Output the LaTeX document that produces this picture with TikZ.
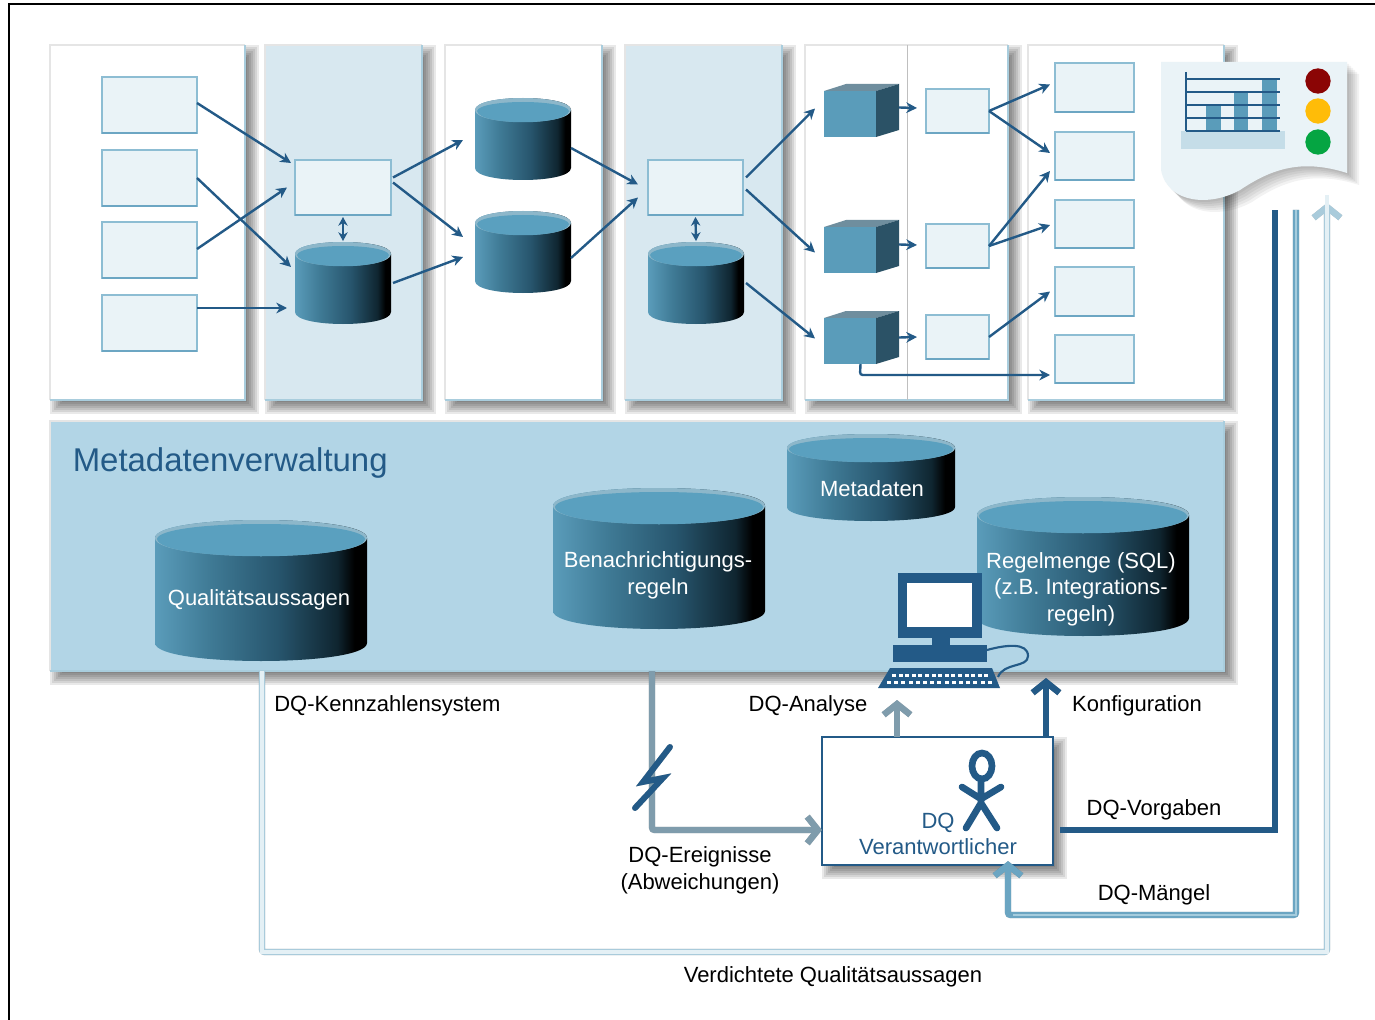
\documentclass[tikz,border=0pt]{standalone}
\usepackage{fontspec}
\setmainfont{Liberation Sans}
\usetikzlibrary{arrows.meta,calc}
\definecolor{panelblue}{HTML}{D8E8F0}
\definecolor{bigblue}{HTML}{B2D5E6}
\definecolor{edgeblue}{HTML}{A9CDDD}
\definecolor{boxfill}{HTML}{EAF3F7}
\definecolor{boxedge}{HTML}{8DBDD3}
\definecolor{boxedgedk}{HTML}{6CA6C3}
\definecolor{dark}{HTML}{235A87}
\definecolor{cA}{HTML}{5A9CBA}
\definecolor{cB}{HTML}{3F7A95}
\definecolor{cC}{HTML}{27556D}
\definecolor{cD}{HTML}{0F2530}
\definecolor{cTop}{HTML}{5AA0BF}
\definecolor{cRim}{HTML}{8DB7CA}
\definecolor{cubeside}{HTML}{2B5266}
\definecolor{cubetop}{HTML}{6F8E9E}
\definecolor{greyarrow}{HTML}{7F9CAC}
\definecolor{midarrow}{HTML}{6BA5C2}
\definecolor{midcore}{HTML}{A5CCDD}
\definecolor{lightarrow}{HTML}{A9CBDB}
\definecolor{lightcore}{HTML}{E4F0F5}
\definecolor{lampred}{HTML}{8B0505}
\definecolor{lampamber}{HTML}{FFBC08}
\definecolor{lampgreen}{HTML}{05A542}
\pgfdeclarehorizontalshading[cA,cB,cC,cD]{cylsh}{100bp}{color(0bp)=(cA);color(25bp)=(cA);color(38bp)=(cB);color(54bp)=(cC);color(68bp)=(cD);color(72bp)=(black);color(100bp)=(black)}
\newcommand{\softshadow}[5]{%
  \foreach \dd in {-7,-5,-3,-1,1,3,5,7}{%
    \fill[black,opacity=.085] ({#1+#5+\dd},{#2+#5+\dd}) rectangle ({#3+#5-\dd},{#4+#5-\dd});
  }}
\newcommand{\placenode}[6]{%
  \pgfmathsetmacro\wv{(#5-#3)*0.75}%
  \pgfmathsetmacro\hv{(#6-#4)*0.75}%
  \node[#1,minimum width=\wv pt,minimum height=\hv pt] (#2) at ({(#3+#5)/2},{(#4+#6)/2}) {};}
\newcommand{\panel}[6]{%
  \softshadow{#3}{#4}{#5}{#6}{7}%
  \placenode{panelbox,fill=#1}{#2}{#3}{#4}{#5}{#6}%
  \draw[black!10,line width=1.5pt] (#2.south west) -- (#2.north west) -- (#2.north east);
  \draw[edgeblue,line width=2pt] (#2.north east) -- (#2.south east) -- (#2.south west);}
\newcommand{\lightrect}[5]{%
  \placenode{lbox}{#1}{#2}{#3}{#4}{#5}%
  \draw[boxedgedk,line width=1.6pt] (#1.south west) -- (#1.south east);}
\newcommand{\dbcyl}[6]{%
  \pgfmathsetmacro\yt{#3+#6}\pgfmathsetmacro\yb{#5-#6}%
  \pgfmathsetmacro\ct{#3+#6-#6*4/3}\pgfmathsetmacro\cb{#5-#6+#6*4/3}\pgfmathsetmacro\cc{#3+#6+#6*4/3}%
  \shade[shading=cylsh] (#2,\yt) -- (#2,\yb) .. controls (#2,\cb) and (#4,\cb) .. (#4,\yb) -- (#4,\yt) .. controls (#4,\ct) and (#2,\ct) .. (#2,\yt) -- cycle;
  \fill[cRim] (#2,\yt) .. controls (#2,\ct) and (#4,\ct) .. (#4,\yt) .. controls (#4,\cc) and (#2,\cc) .. (#2,\yt) -- cycle;
  \fill[cTop] ({#2+2},{\yt+1}) .. controls ({#2+5},{\ct+5}) and ({#4-5},{\ct+5}) .. ({#4-2},{\yt+1}) .. controls ({#4-4},\cc) and ({#2+4},\cc) .. ({#2+2},{\yt+1}) -- cycle;
  \placenode{ghost}{#1}{#2}{#3}{#4}{#5}}
\newcommand{\cube}[3]{%
  \pgfmathsetmacro\yA{#3}\pgfmathsetmacro\yB{#3+7}\pgfmathsetmacro\yC{#3+53}\pgfmathsetmacro\yD{#3+46}\pgfmathsetmacro\xE{#2+75}%
  \fill[cubetop] (#2,\yB) -- ({#2+22},\yA) -- (\xE,\yA) -- ({#2+52},\yB) -- cycle;
  \fill[cubeside] ({#2+52},\yB) -- (\xE,\yA) -- (\xE,\yD) -- ({#2+52},\yC) -- cycle;
  \fill[cA] (#2,\yB) rectangle ({#2+52},\yC);
  \placenode{ghost}{#1}{#2}{\yA}{\xE}{\yC}}
\newcommand{\thickflow}[2]{%
  \begin{scope}[shift={(3,3)},opacity=.25]\draw[#1,black] #2;\end{scope}
  \draw[#1] #2;}
\tikzset{
  panelbox/.style={draw=none,inner sep=0pt,outer sep=0pt},
  ghost/.style={inner sep=0pt,outer sep=0pt},
  lbox/.style={draw=boxedge,fill=boxfill,line width=1.6pt,inner sep=0pt,outer sep=0pt},
  flow/.style={draw=dark,line width=1.8pt,-{Stealth[length=8pt,width=8pt,inset=2.5pt]}},
  flowboth/.style={draw=dark,line width=1.8pt,{Stealth[length=6.5pt,width=7pt,inset=2pt]}-{Stealth[length=6.5pt,width=7pt,inset=2pt]}},
  lbl/.style={inner sep=0pt,font=\fontsize{16.5}{20}\selectfont,align=center,text=black},
  cyltext/.style={inner sep=0pt,font=\fontsize{16.5}{20}\selectfont,align=center,text=white},
  darktext/.style={inner sep=0pt,font=\fontsize{16.5}{19}\selectfont,align=center,text=dark},
  barb/.style={-{Straight Barb[length=8pt,width=20pt]},line width=4.8pt},
  thick line/.style={line width=4.6pt},
  pers/.style={draw=dark,line width=5pt,line cap=round},
}
\begin{document}
\begin{tikzpicture}[x=0.75pt,y=-0.75pt]
\useasboundingbox (0,0) rectangle (1375,1020);
\fill[white] (0,0) rectangle (1375,1020);
\coordinate (frameA) at (9,1020);
\coordinate (frameB) at (9,4);
\coordinate (frameC) at (1375,4);
\draw[black,line width=1.6pt] (frameA) -- (frameB) -- (frameC);
% panels
\panel{white}{pa}{50}{45}{245}{400}
\panel{panelblue}{pb}{265}{45}{422}{400}
\panel{white}{pc}{445}{45}{602}{400}
\panel{panelblue}{pd}{625}{45}{782}{400}
\panel{white}{pe}{805}{45}{1008}{400}
\panel{white}{pf}{1028}{45}{1224}{400}
\draw[black!25,line width=.8pt] ($(pe.north west)!.505!(pe.north east)$) -- ($(pe.south west)!.505!(pe.south east)$);
\panel{bigblue}{big}{50}{421}{1224}{671}
% boxes
\lightrect{ma}{102}{77}{197}{133}
\lightrect{mb}{102}{150}{197}{206}
\lightrect{mc}{102}{222}{197}{278}
\lightrect{md}{102}{295}{197}{351}
\lightrect{ba}{295}{160}{391}{215}
\lightrect{bb}{648}{160}{743}{215}
\dbcyl{ca}{295}{242}{391}{324}{12}
\dbcyl{cb}{475}{98}{571}{180}{12}
\dbcyl{cc}{475}{211}{571}{293}{12}
\dbcyl{cd}{648}{242}{744}{324}{12}
\cube{qa}{824}{84}
\cube{qb}{824}{220}
\cube{qc}{824}{311}
\lightrect{ra}{926}{89}{989}{133}
\lightrect{rb}{926}{224}{989}{268}
\lightrect{rc}{926}{315}{989}{359}
\lightrect{sa}{1055}{63}{1134}{112}
\lightrect{sb}{1055}{132}{1134}{180}
\lightrect{sc}{1055}{200}{1134}{248}
\lightrect{sd}{1055}{267}{1134}{316}
\lightrect{se}{1055}{335}{1134}{383}
% flows
\draw[flow] ([shift={(0,-2)}]ma.east) -- ([shift={(-4,3)}]ba.north west);
\draw[flow] (mb.east) -- ([shift={(-4,25)}]ca.north west);
\draw[flow] ([shift={(0,-1)}]mc.east) -- ([shift={(-8,0)}]ba.west);
\draw[flow] ([shift={(0,-15)}]md.east) -- ([shift={(-8,25)}]ca.west);
\draw[flow] ([shift={(2,-10)}]ba.east) -- ([shift={(-12,1)}]cb.west);
\draw[flow] ([shift={(2,-5)}]ba.east) -- ([shift={(-12,-15)}]cc.west);
\draw[flow] ([shift={(2,0)}]ca.east) -- ([shift={(-12,5)}]cc.west);
\draw[flowboth] ([shift={(0,2)}]ba.south) -- ([shift={(0,-1)}]ca.north);
\draw[flow] ([shift={(0,9)}]cb.east) -- ([shift={(-10,-3)}]bb.west);
\draw[flow] ([shift={(0,6)}]cc.east) -- ([shift={(-10,10)}]bb.west);
\draw[flow] ([shift={(3,-10)}]bb.east) -- ([shift={(-9,-2)}]qa.west);
\draw[flow] ([shift={(3,2)}]bb.east) -- ([shift={(-9,6)}]qb.west);
\draw[flow] ([shift={(2,0)}]cd.east) -- ([shift={(-9,1)}]qc.west);
\draw[flowboth] ([shift={(0,2)}]bb.south) -- ([shift={(0,-1)}]cd.north);
\draw[flow] ([shift={(0,-3)}]qa.east) -- ([shift={(-9,-3)}]ra.west);
\draw[flow] ([shift={(0,-2)}]qb.east) -- ([shift={(-9,-1)}]rb.west);
\draw[flow] (qc.east) -- ([shift={(-9,0)}]rc.west);
\draw[flow] (ra.east) -- ([shift={(-5,-3)}]sa.west);
\draw[flow] (ra.east) -- ([shift={(-5,-3)}]sb.west);
\draw[flow] (rb.east) -- ([shift={(-5,-9)}]sb.south west);
\draw[flow] (rb.east) -- ([shift={(-5,1)}]sc.west);
\draw[flow] (rc.east) -- ([shift={(-5,0)}]sd.west);
\coordinate (elbow) at (860,375);
\draw[flow,rounded corners=2pt] ([shift={(-1,0)}]qc.south) -- (elbow) -- ([shift={(-5,16)}]se.west);
% document
\foreach \ss in {2,4,6,8,10,12}{%
  \fill[black,opacity=.05,shift={(\ss,\ss)}] (1161,62) -- (1347,62) -- (1347,173) .. controls (1300,158) and (1270,170) .. (1240,190) .. controls (1212,206) and (1168,205) .. (1161,170) -- cycle;
}
\coordinate (docA) at (1161,62);
\coordinate (docB) at (1347,62);
\coordinate (docC) at (1347,173);
\fill[boxfill] (docA) -- (docB) -- (docC) .. controls (1300,158) and (1270,170) .. (1240,190) .. controls (1212,206) and (1168,205) .. (1161,170) -- cycle;
\fill[panelblue!85!cA] (1181,131) rectangle (1285,149);
\fill[cA] (1206,106) rectangle (1221,131);
\fill[cA] (1234,92) rectangle (1248,131);
\fill[cA] (1262,79) rectangle (1277,131);
\coordinate (axT) at (1186,72);
\coordinate (axB) at (1186,131);
\draw[dark,line width=1.8pt] (axT) -- (axB);
\foreach \yy in {79,92,105,118,131}{\draw[dark,line width=1.8pt] (1186,\yy) -- (1280,\yy);}
\fill[lampred] (1318,81) circle[radius=9.5pt];
\fill[lampamber] (1318,111) circle[radius=9.5pt];
\fill[lampgreen] (1318,142) circle[radius=9.5pt];
% metadata panel
\node[anchor=west,inner sep=0pt,text=dark,font=\fontsize{24.7}{28}\selectfont] (mv) at (72.5,463) {Metadatenverwaltung};
\dbcyl{dq}{155}{520}{367}{661}{18}
\node[cyltext] (tq) at (259,600) {Qualitätsaussagen};
\dbcyl{db}{553}{488}{765}{629}{18}
\node[cyltext] (tb) at (658,575) {Benachrichtigungs-\\regeln};
\dbcyl{dm}{787}{434}{955}{521}{14}
\node[cyltext] (tm) at (872,489) {Metadaten};
\dbcyl{dr}{977}{497}{1189}{636}{18}
\node[cyltext] (tr) at (1081,589) {Regelmenge (SQL)\\(z.B. Integrations-\\regeln)};
% computer
\fill[dark] (898,573) rectangle (982,638);
\fill[white] (907,583) rectangle (972,627);
\fill[dark] (932,638) rectangle (950,645);
\fill[dark] (893,645) rectangle (987,662);
\fill[dark] (890,668) -- (992,668) -- (1000,688) -- (878,688) -- cycle;
\foreach \kx in {0,1,...,14}{%
  \fill[white] ({892+\kx*6.6},673.5) rectangle ({896+\kx*6.6},677);
  \fill[white] ({887+\kx*7.2},680.5) rectangle ({891+\kx*7.2},684);
}
\coordinate (cabA) at (987,650);
\coordinate (cabB) at (998,677);
\draw[dark,line width=1.6pt] (cabA) .. controls (1005,645) and (1028,642) .. (1028,656) .. controls (1028,668) and (1004,662) .. (cabB);
% DQ box
\softshadow{822}{737}{1053}{865}{7}
\placenode{draw=dark,fill=white,line width=1.6pt,inner sep=0pt,outer sep=0pt}{dqv}{822}{737}{1053}{865}
\node[darktext] (dqt) at (938,834) {DQ\\Verantwortlicher};
\draw[pers] (982,766) ellipse[x radius=10,y radius=13];
\coordinate (neck) at (981,779);
\coordinate (hip) at (981,803);
\coordinate (armL) at (962,787);
\coordinate (armR) at (1001,787);
\coordinate (legL) at (966,828);
\coordinate (legR) at (997,828);
\draw[pers] (neck) -- (hip) (armL) -- (981,799) -- (armR) (legL) -- (hip) -- (legR);
% thick connectors
\coordinate (gA) at (652,671);
\coordinate (gB) at (652,830);
\thickflow{greyarrow,barb,rounded corners=2pt}{(gA) -- (gB) -- (dqv.west |- gB)}
\coordinate (ltA) at (670,747);
\coordinate (ltB) at (643,782);
\coordinate (ltC) at (663,778);
\coordinate (ltD) at (635,808);
\thickflow{dark,line width=4.4pt,line join=miter,line cap=round}{(ltA) -- (ltB) -- (ltC) -- (ltD)}
\coordinate (anaTip) at (897,700);
\coordinate (cfgTip) at (1046,678);
\thickflow{greyarrow,barb}{(dqv.north -| anaTip) -- (anaTip)}
\thickflow{dark,barb}{(dqv.north -| cfgTip) -- (cfgTip)}
\coordinate (vA) at (1275,830);
\coordinate (vB) at (1275,210);
\coordinate (vstart) at (1060,830);
\thickflow{dark,thick line}{(vstart) -- (vA) -- (vB)}
\coordinate (mA) at (1296,210);
\coordinate (mB) at (1296,915);
\coordinate (mC) at (1008,915);
\thickflow{midarrow,barb,rounded corners=2pt}{(mA) -- (mB) -- (mC) -- ([yshift=3]dqv.south -| mC)}
\draw[midcore,line width=2.2pt] (mA) -- (mB) -- ([xshift=4]mC);
\coordinate (lA) at (262,952);
\coordinate (lB) at (1327,952);
\coordinate (lC) at (1327,203);
\thickflow{lightarrow,barb,rounded corners=2pt}{(big.south -| lA) -- (lA) -- (lB) -- (lC)}
\draw[lightcore,line width=2.4pt] (big.south -| lA) -- (lA) -- (lB) -- ([yshift=6]lC);
% labels
\node[lbl,anchor=west] (l1) at (274,706) {DQ-Kennzahlensystem};
\node[lbl] (l2) at (808,706) {DQ-Analyse};
\node[lbl] (l3) at (1137,706) {Konfiguration};
\node[lbl] (l4) at (1154,810) {DQ-Vorgaben};
\node[lbl] (l5) at (1154,895) {DQ-Mängel};
\node[lbl] (l6) at (700,870) {DQ-Ereignisse\\(Abweichungen)};
\node[lbl] (l7) at (833,977) {Verdichtete Qualitätsaussagen};
\end{tikzpicture}
\end{document}
